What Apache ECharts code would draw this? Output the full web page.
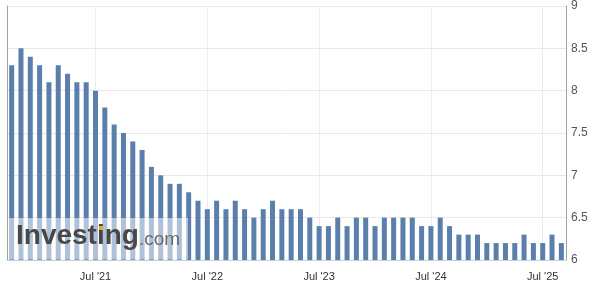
<!DOCTYPE html>
<html>
<head>
<meta charset="utf-8">
<script src="https://cdn.jsdelivr.net/npm/echarts@6/dist/echarts.min.js"></script>
<style>html,body{margin:0;padding:0;background:#fff;}#c{width:597px;height:298px;}</style>
</head>
<body>
<div id="c"></div>
<script>
const categories = [
  "Oct '20","Nov '20","Dec '20",
  "Jan '21","Feb '21","Mar '21","Apr '21","May '21","Jun '21","Jul '21","Aug '21","Sep '21","Oct '21","Nov '21","Dec '21",
  "Jan '22","Feb '22","Mar '22","Apr '22","May '22","Jun '22","Jul '22","Aug '22","Sep '22","Oct '22","Nov '22","Dec '22",
  "Jan '23","Feb '23","Mar '23","Apr '23","May '23","Jun '23","Jul '23","Aug '23","Sep '23","Oct '23","Nov '23","Dec '23",
  "Jan '24","Feb '24","Mar '24","Apr '24","May '24","Jun '24","Jul '24","Aug '24","Sep '24","Oct '24","Nov '24","Dec '24",
  "Jan '25","Feb '25","Mar '25","Apr '25","May '25","Jun '25","Jul '25","Aug '25","Sep '25"
];
const values = [
  8.3, 8.5, 8.4,
  8.3, 8.1, 8.3, 8.2, 8.1, 8.1, 8.0, 7.8, 7.6, 7.5, 7.4, 7.3,
  7.1, 7.0, 6.9, 6.9, 6.8, 6.7, 6.6, 6.7, 6.6, 6.7, 6.6, 6.5,
  6.6, 6.7, 6.6, 6.6, 6.6, 6.5, 6.4, 6.4, 6.5, 6.4, 6.5, 6.5,
  6.4, 6.5, 6.5, 6.5, 6.5, 6.4, 6.4, 6.5, 6.4, 6.3, 6.3, 6.3,
  6.2, 6.2, 6.2, 6.2, 6.3, 6.2, 6.2, 6.3, 6.2
];
const yTicks = [6, 6.5, 7, 7.5, 8, 8.5, 9];

const isJul = (idx, val) => String(val).indexOf('Jul') === 0;
const chart = echarts.init(document.getElementById('c'), null, {renderer: 'canvas'});
chart.setOption({
  animation: false,
  grid: {left: 7, right: 31, top: 5, bottom: 38, containLabel: false},
  xAxis: {
    type: 'category',
    data: categories,
    boundaryGap: true,
    axisLine: {show: true, lineStyle: {color: '#c5cfdc', width: 1}},
    axisTick: {show: false},
    axisLabel: {interval: isJul, color: '#333', fontSize: 11, fontFamily: 'Liberation Sans, Arial, sans-serif', margin: 11},
    splitLine: {show: true, interval: isJul, alignWithLabel: true, lineStyle: {color: '#ececec', width: 1}}
  },
  yAxis: [{
    type: 'value',
    position: 'right',
    min: yTicks[0],
    max: yTicks[yTicks.length - 1],
    interval: 0.5,
    axisLine: {show: true, lineStyle: {color: '#a0a0a0'}},
    axisTick: {show: false},
    axisLabel: {color: '#555', fontSize: 12, fontFamily: 'Liberation Sans, Arial, sans-serif', margin: 5},
    splitLine: {show: true, lineStyle: {color: '#e8e8e8', width: 1}}
  }, {
    type: 'value',
    position: 'left',
    min: yTicks[0],
    max: yTicks[yTicks.length - 1],
    interval: 0.5,
    axisLine: {show: true, lineStyle: {color: '#a0a0a0'}},
    axisTick: {show: false},
    axisLabel: {show: false},
    splitLine: {show: false}
  }],
  series: [{
    type: 'bar',
    data: values,
    barWidth: 5,
    itemStyle: {color: '#5a7fab'},
    yAxisIndex: 0
  }],
  graphic: [
    {type: 'rect', z: 100, shape: {x: 8, y: 218, width: 180, height: 41.5}, style: {fill: 'rgba(255,255,255,0.52)'}},
    {type: 'text', z: 101, x: 16, y: 222, style: {text: 'Investing', fill: '#484848', font: 'bold 28px "Liberation Sans", Arial, sans-serif'}},
    {type: 'text', z: 101, x: 139, y: 230, style: {text: '.com', fill: '#6a6a6a', font: '19px "Liberation Sans", Arial, sans-serif'}},
    {type: 'rect', z: 102, shape: {x: 99, y: 226, width: 4, height: 4}, style: {fill: '#f5a623'}}
  ]
});
</script>
</body>
</html>
